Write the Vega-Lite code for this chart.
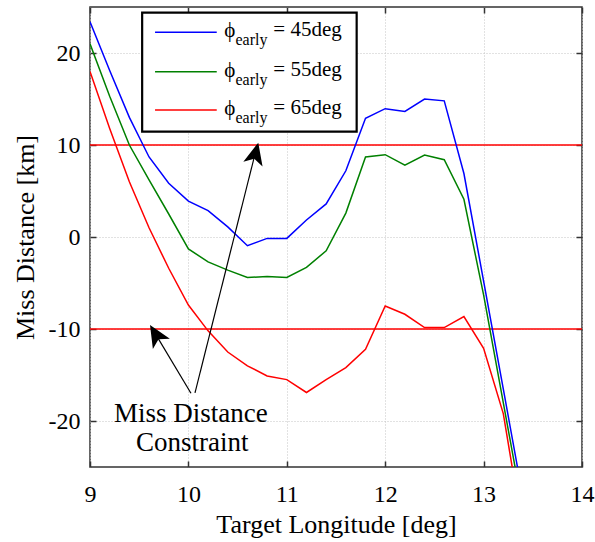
{
  "$schema": "https://vega.github.io/schema/vega-lite/v6.json",
  "width": 492,
  "height": 460,
  "autosize": {"type": "none"},
  "padding": {"left": 90, "top": 7, "right": 13, "bottom": 75},
  "background": "white",
  "config": {
    "font": "'Liberation Serif', 'Times New Roman', 'DejaVu Serif', serif",
    "text": {"font": "'Liberation Serif', 'Times New Roman', 'DejaVu Serif', serif"},
    "view": {"stroke": "#333333", "strokeWidth": 1.5},
    "axis": {
      "labelFont": "'Liberation Serif', 'Times New Roman', 'DejaVu Serif', serif",
      "labelFontSize": 24,
      "labelColor": "#000000",
      "titleFont": "'Liberation Serif', 'Times New Roman', 'DejaVu Serif', serif",
      "titleFontSize": 26,
      "titleFontWeight": "normal",
      "titleColor": "#000000",
      "gridColor": "#c4c4c4",
      "gridDash": [1, 2],
      "gridWidth": 1,
      "tickColor": "#333333",
      "tickWidth": 1.5,
      "tickSize": -6,
      "domain": false
    }
  },
  "datasets": {
    "curves": [
      {"lon": 9.0, "miss": 23.4, "series": "45deg"},
      {"lon": 9.2, "miss": 18.1, "series": "45deg"},
      {"lon": 9.4, "miss": 13.0, "series": "45deg"},
      {"lon": 9.6, "miss": 8.7, "series": "45deg"},
      {"lon": 9.8, "miss": 5.85, "series": "45deg"},
      {"lon": 10.0, "miss": 3.9, "series": "45deg"},
      {"lon": 10.2, "miss": 2.86, "series": "45deg"},
      {"lon": 10.4, "miss": 1.1, "series": "45deg"},
      {"lon": 10.6, "miss": -0.95, "series": "45deg"},
      {"lon": 10.8, "miss": -0.15, "series": "45deg"},
      {"lon": 11.0, "miss": -0.15, "series": "45deg"},
      {"lon": 11.2, "miss": 1.85, "series": "45deg"},
      {"lon": 11.4, "miss": 3.6, "series": "45deg"},
      {"lon": 11.6, "miss": 7.2, "series": "45deg"},
      {"lon": 11.8, "miss": 12.9, "series": "45deg"},
      {"lon": 12.0, "miss": 13.95, "series": "45deg"},
      {"lon": 12.2, "miss": 13.65, "series": "45deg"},
      {"lon": 12.4, "miss": 15.0, "series": "45deg"},
      {"lon": 12.6, "miss": 14.8, "series": "45deg"},
      {"lon": 12.8, "miss": 6.9, "series": "45deg"},
      {"lon": 13.0, "miss": -4.8, "series": "45deg"},
      {"lon": 13.2, "miss": -16.5, "series": "45deg"},
      {"lon": 13.4, "miss": -28.3, "series": "45deg"},
      {"lon": 9.0, "miss": 21.0, "series": "55deg"},
      {"lon": 9.2, "miss": 15.3, "series": "55deg"},
      {"lon": 9.4, "miss": 10.0, "series": "55deg"},
      {"lon": 9.6, "miss": 6.2, "series": "55deg"},
      {"lon": 9.8, "miss": 2.5, "series": "55deg"},
      {"lon": 10.0, "miss": -1.3, "series": "55deg"},
      {"lon": 10.2, "miss": -2.7, "series": "55deg"},
      {"lon": 10.4, "miss": -3.6, "series": "55deg"},
      {"lon": 10.6, "miss": -4.4, "series": "55deg"},
      {"lon": 10.8, "miss": -4.3, "series": "55deg"},
      {"lon": 11.0, "miss": -4.4, "series": "55deg"},
      {"lon": 11.2, "miss": -3.3, "series": "55deg"},
      {"lon": 11.4, "miss": -1.5, "series": "55deg"},
      {"lon": 11.6, "miss": 2.6, "series": "55deg"},
      {"lon": 11.8, "miss": 8.7, "series": "55deg"},
      {"lon": 12.0, "miss": 8.95, "series": "55deg"},
      {"lon": 12.2, "miss": 7.8, "series": "55deg"},
      {"lon": 12.4, "miss": 8.9, "series": "55deg"},
      {"lon": 12.6, "miss": 8.4, "series": "55deg"},
      {"lon": 12.8, "miss": 4.1, "series": "55deg"},
      {"lon": 13.0, "miss": -6.3, "series": "55deg"},
      {"lon": 13.2, "miss": -18.0, "series": "55deg"},
      {"lon": 13.4, "miss": -29.7, "series": "55deg"},
      {"lon": 9.0, "miss": 18.0, "series": "65deg"},
      {"lon": 9.2, "miss": 11.8, "series": "65deg"},
      {"lon": 9.4, "miss": 6.0, "series": "65deg"},
      {"lon": 9.6, "miss": 1.0, "series": "65deg"},
      {"lon": 9.8, "miss": -3.4, "series": "65deg"},
      {"lon": 10.0, "miss": -7.4, "series": "65deg"},
      {"lon": 10.2, "miss": -10.2, "series": "65deg"},
      {"lon": 10.4, "miss": -12.5, "series": "65deg"},
      {"lon": 10.6, "miss": -14.0, "series": "65deg"},
      {"lon": 10.8, "miss": -15.1, "series": "65deg"},
      {"lon": 11.0, "miss": -15.5, "series": "65deg"},
      {"lon": 11.2, "miss": -16.9, "series": "65deg"},
      {"lon": 11.4, "miss": -15.5, "series": "65deg"},
      {"lon": 11.6, "miss": -14.2, "series": "65deg"},
      {"lon": 11.8, "miss": -12.2, "series": "65deg"},
      {"lon": 12.0, "miss": -7.5, "series": "65deg"},
      {"lon": 12.2, "miss": -8.4, "series": "65deg"},
      {"lon": 12.4, "miss": -9.85, "series": "65deg"},
      {"lon": 12.6, "miss": -9.85, "series": "65deg"},
      {"lon": 12.8, "miss": -8.65, "series": "65deg"},
      {"lon": 13.0, "miss": -12.1, "series": "65deg"},
      {"lon": 13.2, "miss": -19.2, "series": "65deg"},
      {"lon": 13.4, "miss": -32.0, "series": "65deg"}
    ],
    "limits": [{"limit": 10}, {"limit": -10}],
    "one": [{"note": "annotation"}]
  },
  "resolve": {"axis": {"x": "independent", "y": "independent"}},
  "layer": [
    {
      "data": {"name": "limits"},
      "mark": {"type": "rule", "color": "#ff0000", "strokeWidth": 1.5},
      "encoding": {
        "y": {"field": "limit", "type": "quantitative", "scale": {"domain": [-25, 25], "nice": false, "zero": false}, "axis": null}
      }
    },
    {
      "data": {"name": "curves"},
      "mark": {"type": "line", "strokeWidth": 1.5, "clip": true},
      "encoding": {
        "x": {
          "field": "lon", "type": "quantitative",
          "scale": {"domain": [9, 14], "nice": false, "zero": false},
          "axis": {"values": [9, 10, 11, 12, 13, 14], "grid": true, "orient": "bottom", "title": "Target Longitude [deg]", "labelPadding": 21, "titleY": 65, "titleBaseline": "alphabetic", "labelFlush": false}
        },
        "y": {
          "field": "miss", "type": "quantitative",
          "scale": {"domain": [-25, 25], "nice": false, "zero": false},
          "axis": {"values": [-20, -10, 0, 10, 20], "labelExpr": "toString(datum.value)", "grid": true, "orient": "left", "title": "Miss Distance [km]", "labelPadding": 16, "titleX": -57, "titleY": 230, "titleAngle": -90, "titleAlign": "center", "titleBaseline": "alphabetic", "labelFlush": false}
        },
        "color": {
          "field": "series", "type": "nominal",
          "scale": {"domain": ["45deg", "55deg", "65deg"], "range": ["#0000ff", "#008000", "#ff0000"]},
          "legend": null
        },
        "order": {"field": "lon", "type": "quantitative"}
      }
    },
    {
      "data": {"name": "one"},
      "mark": {"type": "rule", "color": "#000000", "strokeWidth": 1.2},
      "encoding": {
        "x": {"datum": 10.067, "type": "quantitative", "axis": null},
        "y": {"datum": -16.95, "type": "quantitative", "axis": null},
        "x2": {"datum": 10.70},
        "y2": {"datum": 10.0}
      }
    },
    {
      "data": {"name": "one"},
      "mark": {"type": "rule", "color": "#000000", "strokeWidth": 1.2},
      "encoding": {
        "x": {"datum": 10.026, "type": "quantitative", "axis": null},
        "y": {"datum": -16.98, "type": "quantitative", "axis": null},
        "x2": {"datum": 9.63},
        "y2": {"datum": -9.9}
      }
    },
    {
      "data": {"name": "one"},
      "mark": {"type": "point", "shape": "M0,0L0.45,1L0,0.75L-0.45,1Z", "filled": true, "color": "#000000", "opacity": 1, "size": 1936, "angle": 14},
      "encoding": {
        "x": {"datum": 10.71, "type": "quantitative", "axis": {"orient": "top", "labels": false, "grid": false, "title": null, "values": [9, 10, 11, 12, 13, 14]}},
        "y": {"datum": 10.25, "type": "quantitative", "axis": {"orient": "right", "labels": false, "grid": false, "title": null, "values": [-20, -10, 0, 10, 20]}}
      }
    },
    {
      "data": {"name": "one"},
      "mark": {"type": "point", "shape": "M0,0L0.45,1L0,0.75L-0.45,1Z", "filled": true, "color": "#000000", "opacity": 1, "size": 1936, "angle": -31},
      "encoding": {
        "x": {"datum": 9.61, "type": "quantitative", "axis": null},
        "y": {"datum": -9.57, "type": "quantitative", "axis": null}
      }
    },
    {
      "data": {"name": "one"},
      "mark": {"type": "text", "text": "Miss Distance", "fontSize": 27, "align": "center", "baseline": "alphabetic", "color": "#000000"},
      "encoding": {
        "x": {"datum": 10.024, "type": "quantitative", "axis": null},
        "y": {"datum": -20.14, "type": "quantitative", "axis": null}
      }
    },
    {
      "data": {"name": "one"},
      "mark": {"type": "text", "text": "Constraint", "fontSize": 27, "align": "center", "baseline": "alphabetic", "color": "#000000"},
      "encoding": {
        "x": {"datum": 10.04, "type": "quantitative", "axis": null},
        "y": {"datum": -23.26, "type": "quantitative", "axis": null}
      }
    },
    {
      "data": {"name": "one"},
      "mark": {"type": "rect", "fill": "#ffffff", "stroke": "#000000", "strokeWidth": 2.2},
      "encoding": {
        "x": {"datum": 9.53, "type": "quantitative", "axis": null},
        "x2": {"datum": 11.71},
        "y": {"datum": 24.38, "type": "quantitative", "axis": null},
        "y2": {"datum": 11.45}
      }
    },
    {
      "data": {"values": [{"series": "45deg", "label": "= 45deg"}]},
      "layer": [
        {
          "mark": {"type": "rule", "strokeWidth": 1.5},
          "encoding": {
            "x": {"datum": 9.661, "type": "quantitative", "axis": null},
            "x2": {"datum": 10.288},
            "y": {"datum": 22.25, "type": "quantitative", "axis": null},
            "color": {"field": "series", "type": "nominal", "legend": null}
          }
        },
        {
          "mark": {"type": "text", "text": "ϕ", "fontSize": 21, "align": "left", "baseline": "middle", "dy": -1, "color": "#000000"},
          "encoding": {"x": {"datum": 10.365, "type": "quantitative", "axis": null}, "y": {"datum": 22.25, "type": "quantitative", "axis": null}}
        },
        {
          "mark": {"type": "text", "text": "early", "fontSize": 16, "align": "left", "baseline": "middle", "dy": 8, "color": "#000000"},
          "encoding": {"x": {"datum": 10.478, "type": "quantitative", "axis": null}, "y": {"datum": 22.25, "type": "quantitative", "axis": null}}
        },
        {
          "mark": {"type": "text", "fontSize": 21, "align": "left", "baseline": "middle", "dy": -2, "color": "#000000"},
          "encoding": {"x": {"datum": 10.863, "type": "quantitative", "axis": null}, "y": {"datum": 22.25, "type": "quantitative", "axis": null}, "text": {"field": "label"}}
        }
      ]
    },
    {
      "data": {"values": [{"series": "55deg", "label": "= 55deg"}]},
      "layer": [
        {
          "mark": {"type": "rule", "strokeWidth": 1.5},
          "encoding": {
            "x": {"datum": 9.661, "type": "quantitative", "axis": null},
            "x2": {"datum": 10.288},
            "y": {"datum": 17.97, "type": "quantitative", "axis": null},
            "color": {"field": "series", "type": "nominal", "legend": null}
          }
        },
        {
          "mark": {"type": "text", "text": "ϕ", "fontSize": 21, "align": "left", "baseline": "middle", "dy": -1, "color": "#000000"},
          "encoding": {"x": {"datum": 10.365, "type": "quantitative", "axis": null}, "y": {"datum": 17.97, "type": "quantitative", "axis": null}}
        },
        {
          "mark": {"type": "text", "text": "early", "fontSize": 16, "align": "left", "baseline": "middle", "dy": 8, "color": "#000000"},
          "encoding": {"x": {"datum": 10.478, "type": "quantitative", "axis": null}, "y": {"datum": 17.97, "type": "quantitative", "axis": null}}
        },
        {
          "mark": {"type": "text", "fontSize": 21, "align": "left", "baseline": "middle", "dy": -2, "color": "#000000"},
          "encoding": {"x": {"datum": 10.863, "type": "quantitative", "axis": null}, "y": {"datum": 17.97, "type": "quantitative", "axis": null}, "text": {"field": "label"}}
        }
      ]
    },
    {
      "data": {"values": [{"series": "65deg", "label": "= 65deg"}]},
      "layer": [
        {
          "mark": {"type": "rule", "strokeWidth": 1.5},
          "encoding": {
            "x": {"datum": 9.661, "type": "quantitative", "axis": null},
            "x2": {"datum": 10.288},
            "y": {"datum": 13.80, "type": "quantitative", "axis": null},
            "color": {"field": "series", "type": "nominal", "legend": null}
          }
        },
        {
          "mark": {"type": "text", "text": "ϕ", "fontSize": 21, "align": "left", "baseline": "middle", "dy": -1, "color": "#000000"},
          "encoding": {"x": {"datum": 10.365, "type": "quantitative", "axis": null}, "y": {"datum": 13.80, "type": "quantitative", "axis": null}}
        },
        {
          "mark": {"type": "text", "text": "early", "fontSize": 16, "align": "left", "baseline": "middle", "dy": 8, "color": "#000000"},
          "encoding": {"x": {"datum": 10.478, "type": "quantitative", "axis": null}, "y": {"datum": 13.80, "type": "quantitative", "axis": null}}
        },
        {
          "mark": {"type": "text", "fontSize": 21, "align": "left", "baseline": "middle", "dy": -2, "color": "#000000"},
          "encoding": {"x": {"datum": 10.863, "type": "quantitative", "axis": null}, "y": {"datum": 13.80, "type": "quantitative", "axis": null}, "text": {"field": "label"}}
        }
      ]
    }
  ]
}
